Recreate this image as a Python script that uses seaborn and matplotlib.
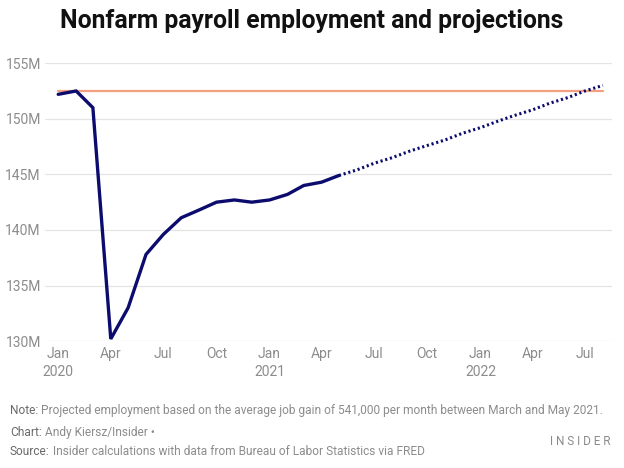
import pandas as pd
import numpy as np
import matplotlib
matplotlib.use("Agg")
import matplotlib.pyplot as plt
import matplotlib.dates as mdates
import seaborn as sns

# ── data (millions of jobs)
actual_months = ["2020-01", "2020-02", "2020-03", "2020-04", "2020-05", "2020-06",
                 "2020-07", "2020-08", "2020-09", "2020-10", "2020-11", "2020-12",
                 "2021-01", "2021-02", "2021-03", "2021-04", "2021-05"]
actual_jobs = [152.2, 152.5, 151.0, 130.2, 133.0, 137.8,
               139.6, 141.1, 141.8, 142.5, 142.7, 142.5,
               142.7, 143.2, 144.0, 144.3, 144.9]

proj_months = ["2021-05", "2021-06", "2021-07", "2021-08", "2021-09", "2021-10",
               "2021-11", "2021-12", "2022-01", "2022-02", "2022-03", "2022-04",
               "2022-05", "2022-06", "2022-07", "2022-08"]
proj_jobs = [144.9, 145.4, 146.0, 146.5, 147.1, 147.6,
             148.1, 148.7, 149.2, 149.8, 150.3, 150.8,
             151.4, 151.9, 152.5, 153.0]

pre_pandemic_level = 152.5
ref_span = ["2020-01", "2022-08"]

y_ticks = [130, 135, 140, 145, 150, 155]
x_tick_months = ["2020-01", "2020-04", "2020-07", "2020-10", "2021-01", "2021-04",
                 "2021-07", "2021-10", "2022-01", "2022-04", "2022-07"]
x_tick_labels = ["Jan\n2020", "Apr", "Jul", "Oct", "Jan\n2021", "Apr",
                 "Jul", "Oct", "Jan\n2022", "Apr", "Jul"]

actual = pd.DataFrame({"date": pd.to_datetime(actual_months), "jobs": actual_jobs})
proj = pd.DataFrame({"date": pd.to_datetime(proj_months), "jobs": proj_jobs})
ref = pd.DataFrame({"date": pd.to_datetime(ref_span), "jobs": [pre_pandemic_level] * 2})

# ── style
navy = "#0c0c6e"
orange = "#f2a07f"
grey = "#8c8c8c"
sns.set_style("white")
plt.rcParams["font.family"] = ["Roboto", "DejaVu Sans"]

fig = plt.figure(figsize=(6.24, 4.68), dpi=100)
ax = fig.add_axes([0.072, 0.271, 0.909, 0.594])

sns.lineplot(data=ref, x="date", y="jobs", ax=ax, color=orange, linewidth=1.6)
sns.lineplot(data=proj, x="date", y="jobs", ax=ax, color=navy, linewidth=2.2,
             linestyle=(0, (0.7, 0.9)))
sns.lineplot(data=actual, x="date", y="jobs", ax=ax, color=navy, linewidth=2.4,
             solid_joinstyle="miter")

ax.set_ylim(130, 155)
ax.set_xlim(pd.Timestamp("2019-12-09"), pd.Timestamp("2022-08-17"))
ax.set_yticks(y_ticks)
ax.set_yticklabels([f"{v}M" for v in y_ticks])
ax.set_xticks(pd.to_datetime(x_tick_months))
ax.set_xticklabels(x_tick_labels, linespacing=1.35)
ax.set_xlabel("")
ax.set_ylabel("")
ax.grid(axis="y", color="#e4e4e4", linewidth=0.9)
ax.set_axisbelow(True)
for s in ax.spines.values():
    s.set_visible(False)
ax.tick_params(axis="both", length=0, labelsize=10, labelcolor=grey)
ax.tick_params(axis="y", pad=3)
ax.tick_params(axis="x", pad=4)

fig.text(0.5, 0.955, "Nonfarm payroll employment and projections",
         ha="center", va="center", fontsize=17.8, fontweight="bold", color="#111111")


def two_tone(x, y, bold, rest, size=8.6):
    t = fig.text(x, y, bold, fontsize=size, color="#6a6a6a", va="center")
    fig.canvas.draw()
    bb = t.get_window_extent()
    x2 = (bb.x1 + 3) / fig.bbox.width
    fig.text(x2, y, rest, fontsize=size, color=grey, va="center")


two_tone(0.016, 0.122, "Note:",
         "Projected employment based on the average job gain of 541,000 per month between March and May 2021.")
two_tone(0.016, 0.076, "Chart:", "Andy Kiersz/Insider \u2022")
two_tone(0.016, 0.036, "Source:",
         "Insider calculations with data from Bureau of Labor Statistics via FRED")
fig.text(0.978, 0.056, "I N S I D E R", ha="right", va="center", fontsize=8.5,
         color="#8a8a8a")

fig.savefig("out.png", dpi=100, facecolor="white")
